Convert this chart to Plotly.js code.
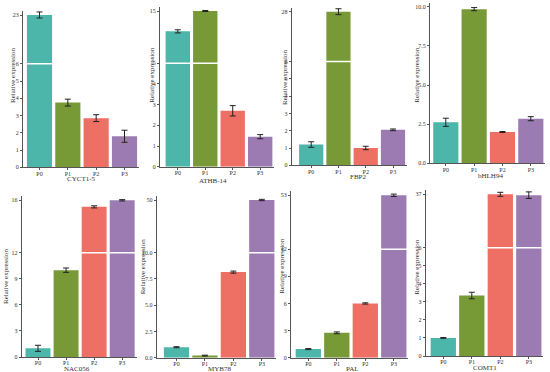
<!DOCTYPE html>
<html><head><meta charset="utf-8">
<script src="https://cdn.plot.ly/plotly-3.0.1.min.js"></script>
<style>html,body{margin:0;padding:0;background:#fff}#chart{width:550px;height:372px}</style>
</head><body><div id="chart"></div>
<script>
// ---------- data ----------
const stages = ["P0", "P1", "P2", "P3"];
const genes = ["CYCT1-5", "ATHB-14", "FBP2", "bHLH94", "NAC056", "MYB78", "PAL", "COMT1"];

const cyct15 = [23, 3.75, 2.85, 1.8];
const cyct15Err = [1.06, 0.2, 0.2, 0.35];
const athb14 = [11.1, 15, 2.7, 1.45];
const athb14Err = [0.3, 0.1, 0.25, 0.1];
const fbp2 = [1.2, 28, 1.0, 2.05];
const fbp2Err = [0.16, 1.3, 0.1, 0.05];
const bhlh94 = [2.62, 9.85, 2.0, 2.85];
const bhlh94Err = [0.26, 0.1, 0.03, 0.13];
const nac056 = [1.0, 10.0, 15.5, 16.0];
const nac056Err = [0.35, 0.25, 0.08, 0.05];
const myb78 = [1.0, 0.2, 8.15, 50];
const myb78Err = [0.05, 0.04, 0.1, 0.5];
const pal = [0.95, 2.75, 6.0, 53];
const palErr = [0.06, 0.1, 0.07, 0.9];
const comt1 = [1.0, 3.35, 37, 36.5];
const comt1Err = [0.02, 0.18, 1.16, 1.9];

// axis breaks and tick labels
const breakValues = [6, 5, 6, null, 12, 10, 12, 6];
const topTickValues = [23, 15, 28, 10, 16, 50, 53, 37];
const topTickLabels = ["23", "15", "28", "10.0", "16", "50", "53", "37"];
const lowerTickStep = [1, 1, 1, 2.5, 3, 2.5, 3, 1];
const lowerTickDecimals = [0, 0, 0, 1, 0, 1, 0, 0];

const allValues = [cyct15, athb14, fbp2, bhlh94, nac056, myb78, pal, comt1];
const allErrors = [cyct15Err, athb14Err, fbp2Err, bhlh94Err, nac056Err, myb78Err, palErr, comt1Err];

// ---------- styling / geometry (pixels) ----------
const colors = ["#4DB6AB", "#779A37", "#EE6F64", "#9C7BB3"];
const W = 550, H = 372;
const geo = [
  {ax: 23,    right: 139, c0: 39.5,  c3: 124.5, w: 25,   y0: 167.3, yb: 63.8,  yt: 15,    tx: 13,    ty: 75,  gx: 81.5, gy: 178.5},
  {ax: 160,   right: 274, c0: 177.8, c3: 260.2, w: 24.3, y0: 166.7, yb: 63.2,  yt: 11,    tx: 151.7, ty: 75,  gx: 213,  gy: 181},
  {ax: 291.7, right: 407, c0: 311.2, c3: 393,   w: 24.2, y0: 165.3, yb: 61.5,  yt: 11.7,  tx: 285,   ty: 77,  gx: 358,  gy: 176.5},
  {ax: 430,   right: 545, c0: 445.8, c3: 530.8, w: 25,   y0: 163.3, yb: null,  yt: 6.8,   tx: 416.7, ty: 75,  gx: 490,  gy: 175.5},
  {ax: 21.7,  right: 137, c0: 38,    c3: 122.2, w: 25.4, y0: 357,   yb: 252.8, yt: 200.3, tx: 6,     ty: 276, gx: 77,   gy: 368.5},
  {ax: 156.7, right: 276, c0: 176.5, c3: 261.8, w: 25,   y0: 357.7, yb: 252.7, yt: 200,   tx: 143.3, ty: 266, gx: 219,  gy: 368.5},
  {ax: 291,   right: 408, c0: 308.3, c3: 393.8, w: 25.5, y0: 357.7, yb: 249.2, yt: 195.3, tx: 281.7, ty: 266, gx: 352,  gy: 368.5},
  {ax: 425.7, right: 543, c0: 443.3, c3: 528.8, w: 25.3, y0: 356,   yb: 247.7, yt: 194.3, tx: 416.7, ty: 267, gx: 485,  gy: 368}
];

const fx = px => px / W;
const fy = py => 1 - py / H;
const FONT = "Liberation Serif, Times New Roman, serif";
const axisColor = "#555";

const traces = [];
const layout = {
  width: W, height: H,
  margin: {l: 0, r: 0, t: 0, b: 0},
  paper_bgcolor: "#fff", plot_bgcolor: "rgba(0,0,0,0)",
  showlegend: false,
  font: {family: FONT, size: 6, color: "#333"},
  shapes: [], annotations: []
};

geo.forEach((g, i) => {
  const vals = allValues[i], errs = allErrors[i];
  const brk = breakValues[i];
  const xid = i === 0 ? "x" : "x" + (i + 1);
  const yLowNum = 2 * i + 1, yUpNum = 2 * i + 2;
  const yLowId = yLowNum === 1 ? "y" : "y" + yLowNum;
  const yUpId = "y" + yUpNum;
  const pitch = (g.c3 - g.c0) / 3;
  const xr = [(g.ax - g.c0) / pitch, 3 + (g.right - g.c3) / pitch];
  const bargap = 1 - g.w / pitch;

  layout[(i === 0 ? "xaxis" : "xaxis" + (i + 1))] = {
    domain: [fx(g.ax), fx(g.right)], range: xr, anchor: yLowId,
    type: "category", categoryorder: "array", categoryarray: stages,
    showline: true, linecolor: axisColor, linewidth: 1,
    ticks: "outside", ticklen: 2, tickcolor: axisColor, tickwidth: 1,
    tickfont: {family: FONT, size: 6, color: "#333"}, ticklabelstandoff: -2,
    showgrid: false, zeroline: false, fixedrange: true
  };
  layout.bargap = bargap;

  // lower axis ticks
  const lowTop = brk === null ? topTickValues[i] : brk;
  const tv = [], tt = [];
  for (let v = 0; v <= lowTop + 1e-9; v += lowerTickStep[i]) {
    tv.push(v); tt.push(v.toFixed(lowerTickDecimals[i]));
  }
  let lowRange, lowDomTop;
  if (brk === null) {
    const perUnit = (g.y0 - g.yt) / topTickValues[i];
    lowDomTop = 3;
    lowRange = [0, (g.y0 - lowDomTop) / perUnit];
  } else {
    lowDomTop = g.yb;
    lowRange = [0, brk];
  }
  const yaxisBase = {
    showline: true, linecolor: axisColor, linewidth: 1,
    ticks: "outside", ticklen: 2, tickcolor: axisColor, tickwidth: 1,
    tickfont: {family: FONT, size: 6, color: "#333"},
    showgrid: false, zeroline: false, fixedrange: true, anchor: xid
  };
  layout["yaxis" + (yLowNum === 1 ? "" : yLowNum)] = Object.assign({}, yaxisBase, {
    domain: [fy(g.y0), fy(lowDomTop)], range: lowRange,
    tickmode: "array", tickvals: tv, ticktext: tt
  });

  const lowErr = vals.map((v, k) => (brk === null || v <= brk) ? errs[k] : 0);
  traces.push({
    type: "bar", x: stages, y: vals, xaxis: xid, yaxis: yLowId,
    marker: {color: colors, line: {width: 0}},
    error_y: {type: "data", array: lowErr, visible: true, color: "#222", thickness: 1, width: 3},
    hoverinfo: "skip"
  });

  if (brk !== null) {
    const domTop = g.yt - 4;
    const uHigh = brk + (topTickValues[i] - brk) * (g.yb - domTop) / (g.yb - g.yt);
    layout["yaxis" + yUpNum] = Object.assign({}, yaxisBase, {
      domain: [fy(g.yb), fy(domTop)], range: [brk, uHigh],
      tickmode: "array", tickvals: [topTickValues[i]], ticktext: [topTickLabels[i]]
    });
    const upErr = vals.map((v, k) => v > brk ? errs[k] : 0);
    traces.push({
      type: "bar", x: stages, y: vals, xaxis: xid, yaxis: yUpId,
      marker: {color: colors, line: {width: 0}},
      error_y: {type: "data", array: upErr, visible: true, color: "#222", thickness: 1, width: 3},
      hoverinfo: "skip"
    });
    // white break line across the bars
    layout.shapes.push({
      type: "line", xref: "paper", yref: "paper", layer: "above",
      x0: fx(g.ax + 1), x1: fx(g.right), y0: fy(g.yb), y1: fy(g.yb),
      line: {color: "#ffffff", width: 1.5}
    });
  }

  // y title
  layout.annotations.push({
    xref: "paper", yref: "paper", x: fx(g.tx), y: fy(g.ty), xanchor: "center", yanchor: "middle",
    text: "Relative expression", textangle: -90, showarrow: false,
    font: {family: FONT, size: 7, color: "#333"}
  });
  // gene label
  layout.annotations.push({
    xref: "paper", yref: "paper", x: fx(g.gx), y: fy(g.gy), xanchor: "center", yanchor: "middle",
    text: genes[i], showarrow: false,
    font: {family: FONT, size: 7, color: "#333"}
  });
});

Plotly.newPlot("chart", traces, layout, {staticPlot: true, displayModeBar: false});
</script>
</body></html>
